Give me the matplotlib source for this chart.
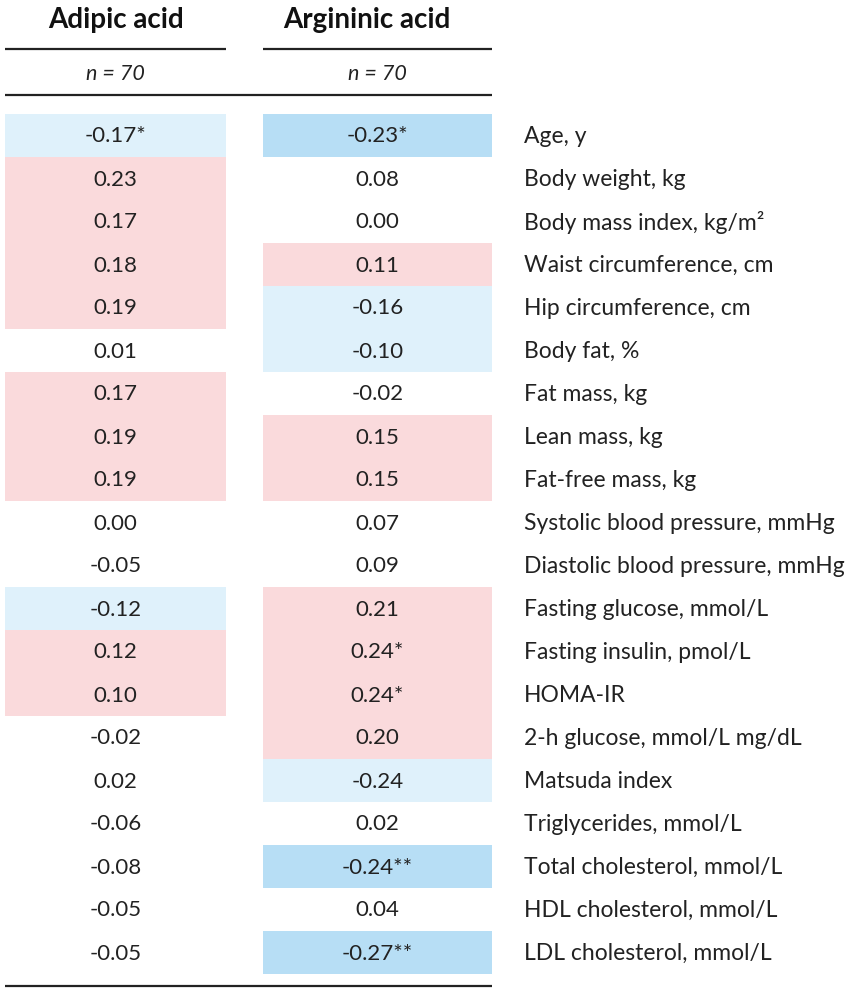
import matplotlib
matplotlib.use("Agg")
import matplotlib.pyplot as plt
from matplotlib.patches import Rectangle

plt.rcParams["font.family"] = ["Lato", "DejaVu Sans"]

# table content
metabolites = ["Adipic acid", "Argininic acid"]
n_labels = ["n = 70", "n = 70"]
variables = [
    "Age, y", "Body weight, kg", "Body mass index, kg/m\u00b2",
    "Waist circumference, cm", "Hip circumference, cm", "Body fat, %",
    "Fat mass, kg", "Lean mass, kg", "Fat-free mass, kg",
    "Systolic blood pressure, mmHg", "Diastolic blood pressure, mmHg",
    "Fasting glucose, mmol/L", "Fasting insulin, pmol/L", "HOMA-IR",
    "2-h glucose, mmol/L mg/dL", "Matsuda index", "Triglycerides, mmol/L",
    "Total cholesterol, mmol/L", "HDL cholesterol, mmol/L",
    "LDL cholesterol, mmol/L",
]
adipic = ["-0.17*", "0.23", "0.17", "0.18", "0.19", "0.01", "0.17", "0.19",
          "0.19", "0.00", "-0.05", "-0.12", "0.12", "0.10", "-0.02", "0.02",
          "-0.06", "-0.08", "-0.05", "-0.05"]
argininic = ["-0.23*", "0.08", "0.00", "0.11", "-0.16", "-0.10", "-0.02",
             "0.15", "0.15", "0.07", "0.09", "0.21", "0.24*", "0.24*", "0.20",
             "-0.24", "0.02", "-0.24**", "0.04", "-0.27**"]
# shading class per cell: "" none, "p" positive, "b" negative, "B" strong negative
adipic_shade = ["b", "p", "p", "p", "p", "", "p", "p", "p", "", "", "b",
                "p", "p", "", "", "", "", "", ""]
argininic_shade = ["B", "", "", "p", "b", "b", "", "p", "p", "", "", "p",
                   "p", "p", "p", "b", "", "B", "", "B"]

shade_colors = {"p": "#fadadc", "b": "#dff1fb", "B": "#b7def5"}

W, H = 851, 995
fig = plt.figure(figsize=(W / 100, H / 100), dpi=100)
ax = fig.add_axes([0, 0, 1, 1])
ax.set_xlim(0, W)
ax.set_ylim(H, 0)
ax.axis("off")

cols = [(5, 226), (263, 492)]
header_x = [116, 367]
row_top, row_h = 115, 43
label_x = 524

for j, name in enumerate(metabolites):
    ax.text(header_x[j], 20, name, ha="center", va="center",
            fontsize=20, fontweight="bold", color="#111111")
    x0, x1 = cols[j]
    ax.plot([x0, x1], [50, 50], color="#222222", lw=1.6,
            solid_capstyle="butt")
    ax.text((x0 + x1) / 2, 74, n_labels[j], ha="center", va="center",
            fontsize=15.5, style="italic", color="#222222")

ax.plot([5, 492], [96, 96], color="#222222", lw=1.6, solid_capstyle="butt")

for i, var in enumerate(variables):
    top = row_top + i * row_h
    yc = top + row_h / 2
    for j, (vals, shades) in enumerate([(adipic, adipic_shade),
                                       (argininic, argininic_shade)]):
        x0, x1 = cols[j]
        if shades[i]:
            ax.add_patch(Rectangle((x0, top), x1 - x0, row_h,
                                   facecolor=shade_colors[shades[i]],
                                   edgecolor="none"))
        ax.text((x0 + x1) / 2, yc, vals[i], ha="center", va="center",
                fontsize=16, color="#222222")
    ax.text(label_x, yc, var, ha="left", va="center",
            fontsize=16.5, color="#222222")

bottom = row_top + len(variables) * row_h + 12
ax.plot([5, 492], [bottom, bottom], color="#222222", lw=1.6,
        solid_capstyle="butt")

fig.savefig("out.png", dpi=100)
